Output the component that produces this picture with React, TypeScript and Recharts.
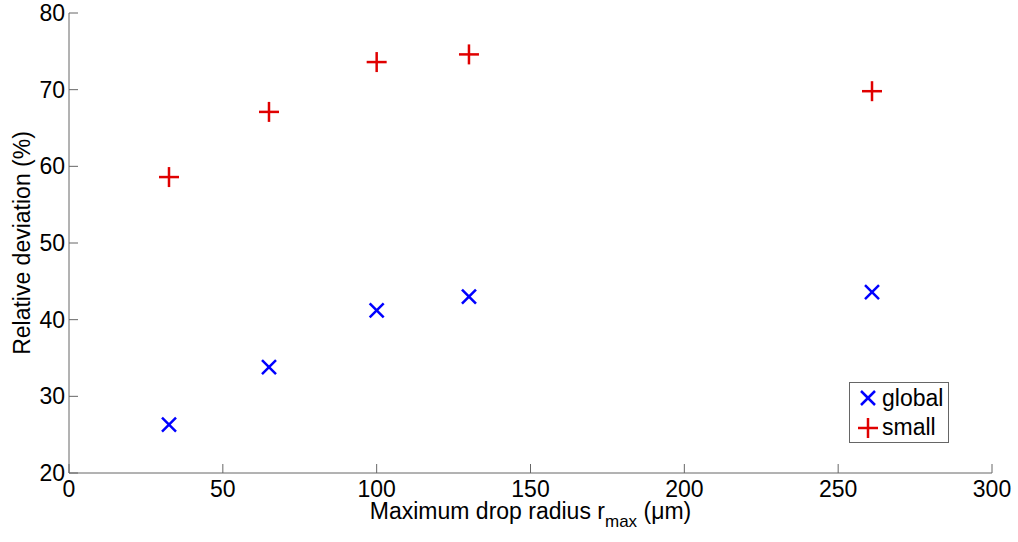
import {
  ScatterChart,
  Scatter,
  XAxis,
  YAxis,
  Legend,
  Label,
} from 'recharts';

// drop radius r_max (um)
const radii = [32.5, 65, 100, 130, 261];
// relative deviation (%)
const globalDev = [26.3, 33.8, 41.2, 43.0, 43.6];
const smallDev = [58.6, 67.1, 73.6, 74.6, 69.8];

const xTicks = [0, 50, 100, 150, 200, 250, 300];
const yTicks = [20, 30, 40, 50, 60, 70, 80];

const globalData = radii.map((r, i) => ({ r, dev: globalDev[i] }));
const smallData = radii.map((r, i) => ({ r, dev: smallDev[i] }));

const FONT = '"Liberation Sans", Arial, sans-serif';
const FS = 23;
const AXIS = '#666';
const TICK_LEN = 9;
const BLUE = '#0000ff';
const RED = '#e00000';

function Cross({ cx, cy, color = BLUE, s = 7 }: any) {
  return (
    <g stroke={color} strokeWidth={2.5}>
      <line x1={cx - s} y1={cy - s} x2={cx + s} y2={cy + s} />
      <line x1={cx - s} y1={cy + s} x2={cx + s} y2={cy - s} />
    </g>
  );
}

function Plus({ cx, cy, color = RED, s = 10 }: any) {
  return (
    <g stroke={color} strokeWidth={2.5}>
      <line x1={cx - s} y1={cy} x2={cx + s} y2={cy} />
      <line x1={cx} y1={cy - s} x2={cx} y2={cy + s} />
    </g>
  );
}

// MATLAB style: ticks point into the box
function BottomTick({ x, y, payload }: any) {
  return (
    <g>
      <line x1={x} x2={x} y1={y} y2={y - TICK_LEN} stroke={AXIS} />
      <text x={x} y={y + 24} textAnchor="middle" fontSize={FS} fontFamily={FONT} fill="#000">
        {payload.value}
      </text>
    </g>
  );
}

function LeftTick({ x, y, payload }: any) {
  return (
    <g>
      <line x1={x} x2={x + TICK_LEN} y1={y} y2={y} stroke={AXIS} />
      <text x={x - 4} y={y + 8} textAnchor="end" fontSize={FS} fontFamily={FONT} fill="#000">
        {payload.value}
      </text>
    </g>
  );
}

function TopTick({ x, y }: any) {
  return <line x1={x} x2={x} y1={y} y2={y + TICK_LEN} stroke={AXIS} />;
}

function RightTick({ x, y }: any) {
  return <line x1={x} x2={x - TICK_LEN} y1={y} y2={y} stroke={AXIS} />;
}

function XLabel({ viewBox }: any) {
  const cx = viewBox.x + viewBox.width / 2;
  return (
    <text x={cx} y={viewBox.y + 46} textAnchor="middle" fontSize={FS} fontFamily={FONT} fill="#000">
      Maximum drop radius r
      <tspan fontSize={17} dy={8}>max</tspan>
      <tspan dy={-8}> (μm)</tspan>
    </text>
  );
}

function YLabel({ viewBox }: any) {
  const cy = viewBox.y + viewBox.height / 2;
  const lx = 22;
  return (
    <text
      x={lx}
      y={cy}
      transform={`rotate(-90, ${lx}, ${cy})`}
      textAnchor="middle"
      dominantBaseline="central"
      fontSize={FS}
      fontFamily={FONT}
      fill="#000"
    >
      Relative deviation (%)
    </text>
  );
}

function LegendBox({ payload }: any) {
  return (
    <div
      style={{
        position: 'absolute',
        left: 849,
        top: 382,
        width: 100,
        height: 61,
        border: `1px solid ${AXIS}`,
        background: '#fff',
        fontFamily: FONT,
        fontSize: FS,
        boxSizing: 'border-box',
      }}
    >
      {(payload || []).map((p: any, i: number) => (
        <div key={p.value} style={{ display: 'flex', alignItems: 'center', height: 29, marginTop: i === 0 ? 1 : 0 }}>
          <svg width={32} height={29}>
            {p.value === 'global' ? (
              <Cross cx={18} cy={14} />
            ) : (
              <Plus cx={18} cy={15} />
            )}
          </svg>
          <span style={{ lineHeight: '29px' }}>{p.value}</span>
        </div>
      ))}
    </div>
  );
}

export default function App() {
  return (
    <div style={{ position: 'absolute', left: 0, top: 0, background: '#fff' }}>
      <ScatterChart
        width={1018}
        height={542}
        margin={{ top: 13, right: 26, left: 0, bottom: 0 }}
        style={{ fontFamily: FONT }}
      >
        <XAxis
          xAxisId="bottom"
          dataKey="r"
          type="number"
          domain={[0, 300]}
          ticks={xTicks}
          interval={0}
          height={69}
          tickSize={0}
          tickMargin={0}
          tickLine={false}
          axisLine={{ stroke: AXIS }}
          tick={<BottomTick />}
        >
          <Label content={<XLabel />} />
        </XAxis>
        <XAxis
          xAxisId="top"
          orientation="top"
          type="number"
          domain={[0, 300]}
          ticks={xTicks}
          interval={0}
          height={0}
          tickSize={0}
          tickMargin={0}
          tickLine={false}
          axisLine={{ stroke: AXIS }}
          tick={<TopTick />}
        />
        <YAxis
          yAxisId="left"
          dataKey="dev"
          type="number"
          domain={[20, 80]}
          ticks={yTicks}
          interval={0}
          width={69}
          tickSize={0}
          tickMargin={0}
          tickLine={false}
          axisLine={{ stroke: AXIS }}
          tick={<LeftTick />}
        >
          <Label content={<YLabel />} />
        </YAxis>
        <YAxis
          yAxisId="right"
          orientation="right"
          type="number"
          domain={[20, 80]}
          ticks={yTicks}
          interval={0}
          width={0}
          tickSize={0}
          tickMargin={0}
          tickLine={false}
          axisLine={{ stroke: AXIS }}
          tick={<RightTick />}
        />
        <Scatter
          name="global"
          data={globalData}
          xAxisId="bottom"
          yAxisId="left"
          fill={BLUE}
          shape={<Cross />}
          isAnimationActive={false}
        />
        <Scatter
          name="small"
          data={smallData}
          xAxisId="bottom"
          yAxisId="left"
          fill={RED}
          shape={<Plus />}
          isAnimationActive={false}
        />
        <Legend
          layout="vertical"
          align="center"
          verticalAlign="middle"
          content={<LegendBox />}
          wrapperStyle={{ left: 0, top: 0, width: 0, height: 0 }}
        />
      </ScatterChart>
    </div>
  );
}
